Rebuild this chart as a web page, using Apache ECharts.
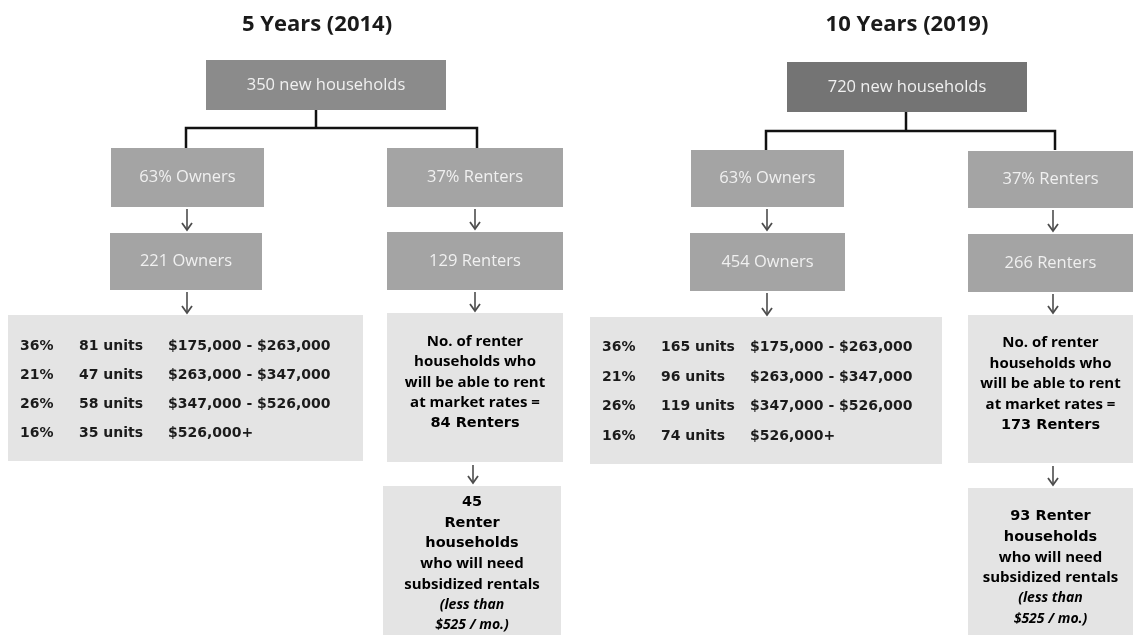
<!DOCTYPE html>
<html>
<head>
<meta charset="utf-8">
<script src="https://cdn.jsdelivr.net/npm/echarts@6/dist/echarts.min.js"></script>
<style>
html,body{margin:0;padding:0;background:#fff;}
#chart{width:1136px;height:635px;}
</style>
</head>
<body>
<div id="chart"></div>
<script>
// ---------- DATA ----------
const panelTitles = ['5 Years (2014)', '10 Years (2019)'];
const newHouseholds = [350, 720];
const ownerShare = [63, 63];
const renterShare = [37, 37];
const ownerCounts = [221, 454];
const renterCounts = [129, 266];
const priceShares = [36, 21, 26, 16];
const ownerUnits = [[81, 47, 58, 35], [165, 96, 119, 74]];
const priceRanges = ['$175,000 - $263,000', '$263,000 - $347,000', '$347,000 - $526,000', '$526,000+'];
const marketRenters = [84, 173];
const subsidizedRenters = [45, 93];
const subsidyLimit = '$525 / mo.';

// ---------- LAYOUT (diagram positions, in canvas units) ----------
const layout = [
  {
    title: [317, 25],
    top: [206, 60, 446, 110], topColor: '#8b8b8b',
    stem: [316, 110, 128], bar: [186, 477, 128], drop: 148,
    owners: [111, 148, 264, 207], owners2: [110, 233, 262, 290],
    ownArrowX: 187, table: [8, 315, 363, 461],
    cols: [20, 79, 168], rows: [346, 375, 404, 433],
    renters: [387, 148, 563, 207], renters2: [387, 232, 563, 290],
    rentArrowX: 475, info: [387, 313, 563, 462],
    finalArrowX: 473, final: [383, 486, 561, 640], finalPad: 6
  },
  {
    title: [907, 25],
    top: [787, 62, 1027, 112], topColor: '#747474',
    stem: [906, 112, 131], bar: [766, 1055, 131], drop: 150,
    owners: [691, 150, 844, 207], owners2: [690, 233, 845, 291],
    ownArrowX: 767, table: [590, 317, 942, 464],
    cols: [602, 661, 750], rows: [347, 377, 406, 436],
    renters: [968, 151, 1133, 208], renters2: [968, 234, 1133, 292],
    rentArrowX: 1053, info: [968, 315, 1133, 463],
    finalArrowX: 1053, final: [968, 488, 1133, 640], finalPad: 18
  }
];

const FONT = '"Open Sans", "Noto Sans", sans-serif';
const midBox = '#a4a4a4';
const lightBox = '#e4e4e4';

// ---------- build diagram items ----------
const items = [];
panelTitles.forEach((t, p) => {
  const L = layout[p];
  items.push({ kind: 'text', x: L.title[0], y: L.title[1], text: t });
  items.push({ kind: 'box', r: L.top, fill: L.topColor, text: newHouseholds[p] + ' new households', label: 'dark' });
  items.push({ kind: 'line', pts: [[L.stem[0], L.stem[1]], [L.stem[0], L.stem[2]]], w: 2.5, c: '#111' });
  items.push({ kind: 'line', pts: [[L.bar[0], L.drop], [L.bar[0], L.bar[2]], [L.bar[1], L.bar[2]], [L.bar[1], L.drop]], w: 2.5, c: '#111' });
  items.push({ kind: 'box', r: L.owners, fill: midBox, text: ownerShare[p] + '% Owners', label: 'dark' });
  items.push({ kind: 'box', r: L.renters, fill: midBox, text: renterShare[p] + '% Renters', label: 'dark' });
  items.push({ kind: 'arrow', x: L.ownArrowX, y1: L.owners[3] + 2, y2: L.owners2[1] - 3 });
  items.push({ kind: 'arrow', x: L.rentArrowX, y1: L.renters[3] + 2, y2: L.renters2[1] - 3 });
  items.push({ kind: 'box', r: L.owners2, fill: midBox, text: ownerCounts[p] + ' Owners', label: 'dark' });
  items.push({ kind: 'box', r: L.renters2, fill: midBox, text: renterCounts[p] + ' Renters', label: 'dark' });
  items.push({ kind: 'arrow', x: L.ownArrowX, y1: L.owners2[3] + 2, y2: L.table[1] - 2 });
  items.push({ kind: 'arrow', x: L.rentArrowX, y1: L.renters2[3] + 2, y2: L.info[1] - 2 });
  items.push({ kind: 'box', r: L.table, fill: lightBox });
  priceShares.forEach((s, i) => {
    const y = L.rows[i];
    items.push({ kind: 'cell', x: L.cols[0], y, text: s + '%' });
    items.push({ kind: 'cell', x: L.cols[1], y, text: ownerUnits[p][i] + ' units' });
    items.push({ kind: 'cell', x: L.cols[2], y, text: priceRanges[i] });
  });
  items.push({ kind: 'box', r: L.info, fill: lightBox, label: 'rich',
    text: '{s|No. of renter}\n{s|households who}\n{s|will be able to rent}\n{s|at market rates =}\n{b|' + marketRenters[p] + ' Renters}' });
  items.push({ kind: 'arrow', x: L.finalArrowX, y1: L.info[3] + 3, y2: L.final[1] - 3 });
  const head = p === 0
    ? '{b|' + subsidizedRenters[p] + '}\n{b|Renter}\n{b|households}'
    : '{b|' + subsidizedRenters[p] + ' Renter}\n{b|households}';
  items.push({ kind: 'box', r: L.final, fill: lightBox, label: 'rich', top: true, pad: L.finalPad,
    text: head + '\n{s|who will need}\n{s|subsidized rentals}\n{i|(less than}\n{i|' + subsidyLimit + ')}' });
});

const rich = {
  s: { fontFamily: FONT, fontSize: 15, fontWeight: 'bold', color: '#1c1c1c', lineHeight: 20.5 },
  b: { fontFamily: '"DejaVu Sans", sans-serif', fontSize: 14.5, fontWeight: 'bold', color: '#0a0a0a', lineHeight: 20.5 },
  i: { fontFamily: FONT, fontSize: 14, fontWeight: 'bold', fontStyle: 'italic', color: '#1c1c1c', lineHeight: 20.5 }
};

function renderItem(params, api) {
  const it = items[params.dataIndex];
  const c = (x, y) => api.coord([x, y]);
  if (it.kind === 'text') {
    const q = c(it.x, it.y);
    return { type: 'text', style: { text: it.text, x: q[0], y: q[1], align: 'center', verticalAlign: 'middle', fontFamily: FONT, fontSize: 22, fontWeight: 'bold', fill: '#1a1a1a' } };
  }
  if (it.kind === 'cell') {
    const q = c(it.x, it.y);
    return { type: 'text', style: { text: it.text, x: q[0], y: q[1], align: 'left', verticalAlign: 'middle', fontFamily: '"DejaVu Sans", sans-serif', fontSize: 14, fontWeight: 'bold', fill: '#1b1b1b' } };
  }
  if (it.kind === 'line') {
    return { type: 'polyline', shape: { points: it.pts.map(pt => c(pt[0], pt[1])) }, style: { stroke: it.c, lineWidth: it.w, fill: null } };
  }
  if (it.kind === 'arrow') {
    const a = c(it.x, it.y1), b = c(it.x, it.y2);
    return { type: 'group', children: [
      { type: 'line', shape: { x1: a[0], y1: a[1], x2: b[0], y2: b[1] }, style: { stroke: '#4d4d4d', lineWidth: 1.6 } },
      { type: 'polyline', shape: { points: [[b[0] - 5, b[1] - 7], [b[0], b[1]], [b[0] + 5, b[1] - 7]] }, style: { stroke: '#4d4d4d', lineWidth: 1.8, fill: null } }
    ] };
  }
  // box
  const p0 = c(it.r[0], it.r[1]), p1 = c(it.r[2], it.r[3]);
  const children = [{ type: 'rect', shape: { x: p0[0], y: p0[1], width: p1[0] - p0[0], height: p1[1] - p0[1] }, style: { fill: it.fill } }];
  if (it.text) {
    const cx = (p0[0] + p1[0]) / 2;
    if (it.label === 'dark') {
      children.push({ type: 'text', style: { text: it.text, x: cx, y: (p0[1] + p1[1]) / 2, align: 'center', verticalAlign: 'middle', fontFamily: FONT, fontSize: 16.5, fill: '#f0f0f0' } });
    } else if (it.top) {
      children.push({ type: 'text', style: { text: it.text, x: cx, y: p0[1] + it.pad, align: 'center', verticalAlign: 'top', rich } });
    } else {
      children.push({ type: 'text', style: { text: it.text, x: cx, y: (p0[1] + p1[1]) / 2 - 5, align: 'center', verticalAlign: 'middle', rich } });
    }
  }
  return { type: 'group', children };
}

const chart = echarts.init(document.getElementById('chart'));
chart.setOption({
  animation: false,
  backgroundColor: '#ffffff',
  grid: { left: 0, right: 0, top: 0, bottom: 0 },
  xAxis: { type: 'value', min: 0, max: 1136, show: false },
  yAxis: { type: 'value', min: 0, max: 635, inverse: true, show: false },
  series: [{
    type: 'custom',
    clip: false,
    renderItem,
    encode: { x: 0, y: 1 },
    data: items.map((_, i) => [i, 0])
  }]
});
</script>
</body>
</html>
